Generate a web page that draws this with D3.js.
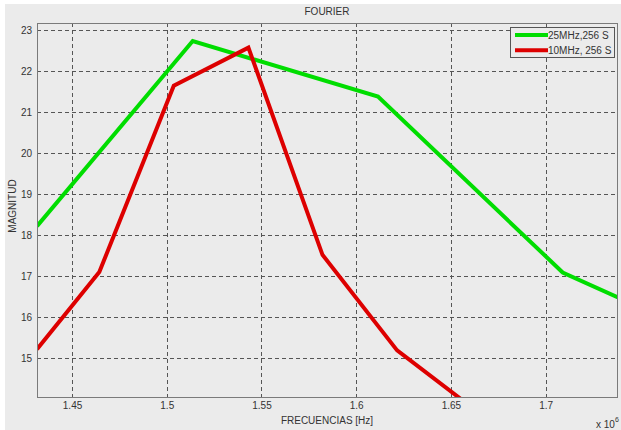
<!DOCTYPE html>
<html><head><meta charset="utf-8">
<script src="https://cdn.jsdelivr.net/npm/d3@7"></script>
<style>
html,body{margin:0;padding:0;background:#fff;}
svg{display:block;}
text{font-family:"Liberation Sans",Arial,Helvetica,sans-serif;}
</style></head>
<body>
<svg id="c" width="621" height="430"></svg>
<script>
const xTicks = [1.45, 1.5, 1.55, 1.6, 1.65, 1.7];
const xTickLabels = ["1.45", "1.5", "1.55", "1.6", "1.65", "1.7"];
const yTicks = [15, 16, 17, 18, 19, 20, 21, 22, 23];
const greenX = [1.4315, 1.5137, 1.6115, 1.709, 1.7382];
const greenY = [18.22, 22.73, 21.375, 17.09, 16.48];
const redX = [1.4315, 1.4644, 1.5037, 1.5431, 1.5822, 1.6216, 1.6608];
const redY = [15.22, 17.1, 21.64, 22.57, 17.52, 15.19, 13.81];
const seriesNames = ["25MHz,256 S", "10MHz, 256 S"];
const seriesColors = ["#00dd00", "#dd0000"];

const svg = d3.select("#c");
svg.append("rect").attr("x",5).attr("y",4).attr("width",616).attr("height",426).attr("fill","#ebebeb");

const L = 37, R = 618, T = 23, B = 398;
const x = d3.scaleLinear().domain([1.4315, 1.7382]).range([L, R]);
const y = d3.scaleLinear().domain([14.03, 23.17]).range([B, T]);

const g = svg.append("g");
g.selectAll(".gx").data(xTicks).enter().append("line")
  .attr("x1",d=>Math.round(x(d))+0.5).attr("x2",d=>Math.round(x(d))+0.5)
  .attr("y1",T).attr("y2",B).attr("stroke","#555").attr("stroke-width",1).attr("stroke-dasharray","4,3");
g.selectAll(".gy").data(yTicks).enter().append("line")
  .attr("y1",d=>Math.round(y(d))+0.5).attr("y2",d=>Math.round(y(d))+0.5)
  .attr("x1",L).attr("x2",R).attr("stroke","#555").attr("stroke-width",1).attr("stroke-dasharray","4,3");

const xAxis = d3.axisBottom(x).tickValues(xTicks).tickFormat((d,i)=>xTickLabels[i]).tickSize(0).tickPadding(4);
const ax = svg.append("g").attr("transform",`translate(0,${B})`).call(xAxis);
ax.select(".domain").remove();
ax.selectAll("text").attr("font-size",10).attr("fill","#333");
const yAxis = d3.axisLeft(y).tickValues(yTicks).tickSize(0).tickPadding(5);
const ay = svg.append("g").attr("transform",`translate(${L},0)`).call(yAxis);
ay.select(".domain").remove();
ay.selectAll("text").attr("font-size",10).attr("fill","#333");

svg.append("clipPath").attr("id","clip").append("rect").attr("x",L).attr("y",T).attr("width",R-L).attr("height",B-T);

const line = d3.line().x(d=>x(d[0])).y(d=>y(d[1]));
const series = [greenX.map((v,i)=>[v,greenY[i]]), redX.map((v,i)=>[v,redY[i]])];
const lg = svg.append("g").attr("clip-path","url(#clip)");
series.forEach((s,i)=>{
  lg.append("path").datum(s).attr("d",line).attr("fill","none")
    .attr("stroke",seriesColors[i]).attr("stroke-width",4).attr("stroke-linejoin","miter");
});

svg.append("rect").attr("x",L+0.5).attr("y",T+0.5).attr("width",R-L-1).attr("height",B-T-1)
  .attr("fill","none").attr("stroke","#7a7a7a").attr("stroke-width",1);

const leg = svg.append("g");
leg.append("rect").attr("x",510.5).attr("y",27.5).attr("width",104).attr("height",30)
  .attr("fill","#ebebeb").attr("stroke","#555").attr("stroke-width",1);
seriesNames.forEach((n,i)=>{
  const yy = 35 + i*15.3;
  leg.append("line").attr("x1",515).attr("x2",548).attr("y1",yy).attr("y2",yy)
    .attr("stroke",seriesColors[i]).attr("stroke-width",4);
  leg.append("text").attr("x",548).attr("y",yy+3.5).attr("font-size",10).attr("fill","#333").text(n);
});

svg.append("text").attr("x",327).attr("y",15).attr("text-anchor","middle").attr("font-size",10).attr("fill","#333").text("FOURIER");
svg.append("text").attr("x",327).attr("y",424).attr("text-anchor","middle").attr("font-size",10).attr("fill","#333").text("FRECUENCIAS [Hz]");
svg.append("text").attr("transform","translate(16,206) rotate(-90)").attr("text-anchor","middle").attr("font-size",10).attr("fill","#333").text("MAGNITUD");
const ex = svg.append("text").attr("x",596).attr("y",428).attr("font-size",10).attr("fill","#333");
ex.append("tspan").text("x 10");
ex.append("tspan").attr("dy",-6).attr("font-size",7).text("6");
</script>
</body></html>
